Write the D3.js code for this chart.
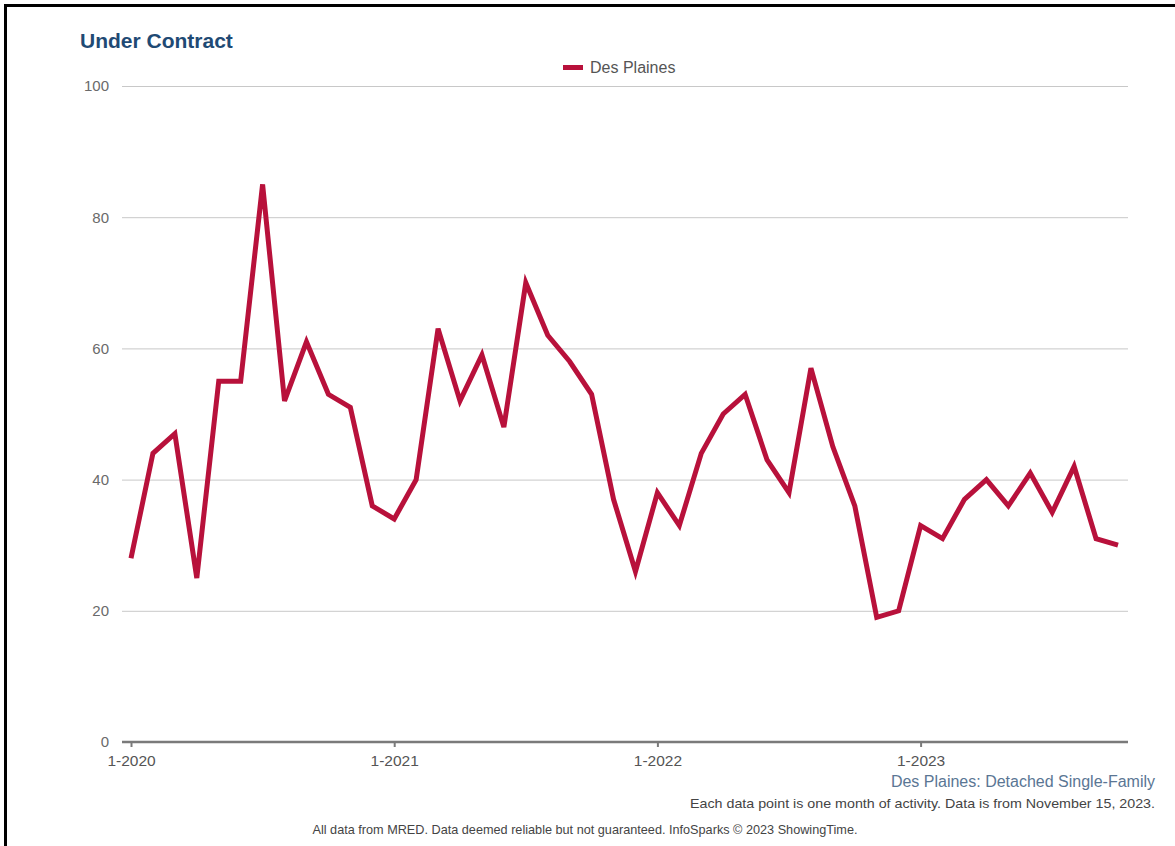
<!DOCTYPE html>
<html>
<head>
<meta charset="utf-8">
<script src="https://cdn.jsdelivr.net/npm/d3@7"></script>
<style>
  html, body { margin: 0; padding: 0; background: #fff; }
  svg { display: block; font-family: "Liberation Sans", Arial, sans-serif; }
</style>
</head>
<body>
<svg id="chart" width="1175" height="846"></svg>
<script>
// Monthly "Under Contract" counts, Jan 2020 – Oct 2023
const months = [
  "1-2020","2-2020","3-2020","4-2020","5-2020","6-2020","7-2020","8-2020","9-2020","10-2020","11-2020","12-2020",
  "1-2021","2-2021","3-2021","4-2021","5-2021","6-2021","7-2021","8-2021","9-2021","10-2021","11-2021","12-2021",
  "1-2022","2-2022","3-2022","4-2022","5-2022","6-2022","7-2022","8-2022","9-2022","10-2022","11-2022","12-2022",
  "1-2023","2-2023","3-2023","4-2023","5-2023","6-2023","7-2023","8-2023","9-2023","10-2023"
];
const desPlaines = [
  28, 44, 47, 25, 55, 55, 85, 52, 61, 53, 51, 36,
  34, 40, 63, 52, 59, 48, 70, 62, 58, 53, 37, 26,
  38, 33, 44, 50, 53, 43, 38, 57, 45, 36, 19, 20,
  33, 31, 37, 40, 36, 41, 35, 42, 31, 30
];
const xTickLabels = ["1-2020", "1-2021", "1-2022", "1-2023"];
const yTicks = [0, 20, 40, 60, 80, 100];

const svg = d3.select("#chart");

// frame edges
svg.append("line").attr("x1", 5).attr("x2", 1175).attr("y1", 5.5).attr("y2", 5.5)
  .attr("stroke", "#000").attr("stroke-width", 3);
svg.append("line").attr("x1", 5.5).attr("x2", 5.5).attr("y1", 4).attr("y2", 846)
  .attr("stroke", "#000").attr("stroke-width", 3);

const x = d3.scalePoint().domain(months).range([131, 1118]);
const y = d3.scaleLinear().domain([0, 100]).range([742, 86]);
const gridLeft = 122, gridRight = 1128;

// horizontal gridlines + y labels
const yAxis = svg.append("g").attr("transform", `translate(${gridLeft},0)`)
  .call(d3.axisLeft(y).tickValues(yTicks).tickSize(0).tickPadding(13).tickFormat(d3.format("d")));
yAxis.select(".domain").remove();
yAxis.selectAll(".tick line")
  .attr("x2", gridRight - gridLeft)
  .attr("stroke", "#c8c8c8").attr("stroke-width", 1)
  .filter(d => d === 0).remove();
yAxis.selectAll(".tick text")
  .attr("fill", "#6a6a6a").attr("font-size", 15).attr("font-family", "Liberation Sans, Arial, sans-serif");

// x axis baseline with year ticks
const xAxis = svg.append("g").attr("transform", `translate(0,${y(0)})`)
  .call(d3.axisBottom(x).tickValues(xTickLabels).tickSize(5).tickSizeOuter(0).tickPadding(8));
xAxis.select(".domain")
  .attr("d", `M${gridLeft},0H${gridRight}`)
  .attr("stroke", "#7a7a7a").attr("stroke-width", 2.5);
xAxis.selectAll(".tick line").attr("stroke", "#7a7a7a").attr("stroke-width", 2);
xAxis.selectAll(".tick text")
  .attr("fill", "#555").attr("font-size", 15.5).attr("font-family", "Liberation Sans, Arial, sans-serif");

// data line
const line = d3.line()
  .x((d, i) => x(months[i]))
  .y(d => y(d));
svg.append("path")
  .datum(desPlaines)
  .attr("d", line)
  .attr("fill", "none")
  .attr("stroke", "#b8113b")
  .attr("stroke-width", 5)
  .attr("stroke-linejoin", "miter");

// title
svg.append("text").attr("x", 80).attr("y", 48)
  .attr("font-size", 21).attr("font-weight", "bold").attr("fill", "#1f4a74")
  .text("Under Contract");

// legend
svg.append("line").attr("x1", 563).attr("x2", 583).attr("y1", 67.5).attr("y2", 67.5)
  .attr("stroke", "#b8113b").attr("stroke-width", 5);
svg.append("text").attr("x", 590).attr("y", 73)
  .attr("font-size", 16).attr("fill", "#555")
  .text("Des Plaines");

// footer notes
svg.append("text").attr("x", 1155).attr("y", 787).attr("text-anchor", "end")
  .attr("font-size", 16).attr("fill", "#5a7694")
  .text("Des Plaines: Detached Single-Family");
svg.append("text").attr("x", 1155).attr("y", 808).attr("text-anchor", "end")
  .attr("font-size", 13.5).attr("fill", "#444")
  .attr("textLength", 465).attr("lengthAdjust", "spacingAndGlyphs")
  .text("Each data point is one month of activity. Data is from November 15, 2023.");
svg.append("text").attr("x", 585).attr("y", 834).attr("text-anchor", "middle")
  .attr("font-size", 13.5).attr("fill", "#444")
  .attr("textLength", 545).attr("lengthAdjust", "spacingAndGlyphs")
  .text("All data from MRED. Data deemed reliable but not guaranteed. InfoSparks © 2023 ShowingTime.");
</script>
</body>
</html>
